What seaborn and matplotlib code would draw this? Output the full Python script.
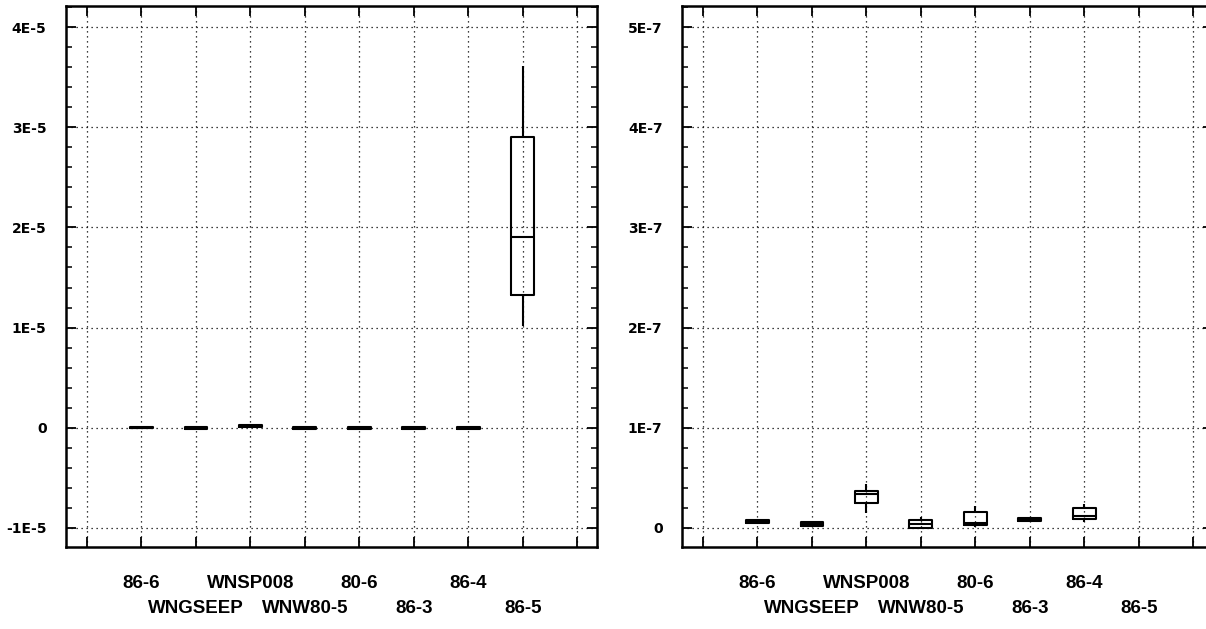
import matplotlib
matplotlib.use("Agg")
import matplotlib.pyplot as plt
from matplotlib.ticker import MultipleLocator, FixedLocator, FixedFormatter
import numpy as np
import pandas as pd
import seaborn as sns

sns.set_style("white")
plt.rcParams["font.family"] = ["DejaVu Sans"]
plt.rcParams["text.color"] = "black"
plt.rcParams["xtick.color"] = "black"
plt.rcParams["ytick.color"] = "black"
plt.rcParams["xtick.labelcolor"] = "black"
plt.rcParams["ytick.labelcolor"] = "black"

# Sampling sites along the x axis
sites = ["86-6", "WNGSEEP", "WNSP008", "WNW80-5", "80-6", "86-3", "86-4", "86-5"]

# Left panel: five-number summaries per site (whisker low, Q1, median, Q3, whisker high)
left_low = [-1.0e-7, -1.5e-7, 0.5e-7, -1.5e-7, -1.5e-7, -1.5e-7, -1.5e-7, 1.02e-5]
left_q1 = [-0.6e-7, -1.0e-7, 1.0e-7, -1.0e-7, -1.0e-7, -1.0e-7, -1.0e-7, 1.33e-5]
left_med = [0.2e-7, 0.0, 2.0e-7, 0.0, 0.0, 0.0, 0.0, 1.90e-5]
left_q3 = [1.0e-7, 1.0e-7, 3.0e-7, 1.0e-7, 1.0e-7, 1.0e-7, 1.0e-7, 2.90e-5]
left_high = [1.5e-7, 1.5e-7, 3.5e-7, 1.5e-7, 1.5e-7, 1.5e-7, 1.5e-7, 3.61e-5]

# Right panel: same summaries (86-5 has no data on this scale)
right_low = [4.0e-9, 1.2e-9, 15.4e-9, 0.0, 1.4e-9, 6.0e-9, 6.0e-9, np.nan]
right_q1 = [4.5e-9, 1.5e-9, 25.4e-9, 0.4e-9, 2.7e-9, 7.0e-9, 8.7e-9, np.nan]
right_med = [6.0e-9, 3.5e-9, 33.5e-9, 3.7e-9, 4.7e-9, 8.0e-9, 12.0e-9, np.nan]
right_q3 = [8.0e-9, 5.5e-9, 36.7e-9, 8.0e-9, 16.4e-9, 9.5e-9, 19.7e-9, np.nan]
right_high = [9.0e-9, 6.0e-9, 43.7e-9, 11.0e-9, 22.0e-9, 10.4e-9, 23.7e-9, np.nan]

left_yticks = [-1e-5, 0, 1e-5, 2e-5, 3e-5, 4e-5]
left_ylabels = ["-1E-5", "0", "1E-5", "2E-5", "3E-5", "4E-5"]
right_yticks = [0, 1e-7, 2e-7, 3e-7, 4e-7, 5e-7]
right_ylabels = ["0", "1E-7", "2E-7", "3E-7", "4E-7", "5E-7"]


def long_frame(*cols):
    rows = []
    for i, site in enumerate(sites):
        for col in cols:
            v = col[i]
            if not np.isnan(v):
                rows.append({"site": site, "value": v})
    return pd.DataFrame(rows)


def draw_panel(ax, df, ylim, yticks, ylabels, ystep):
    sns.boxplot(data=df, x="site", y="value", order=sites, ax=ax,
                fill=False, color="black", linewidth=1.5, width=0.42,
                whis=(0, 100), showcaps=False, showfliers=False)
    ax.set_xlabel("")
    ax.set_ylabel("")

    # Staggered site labels: upper row on major ticks, lower row on minor ticks,
    # plus an empty slot before and after the sites
    upper_pos = [-1] + list(range(0, len(sites), 2)) + [len(sites)]
    upper_lab = [""] + sites[0::2] + [""]
    lower_pos = list(range(1, len(sites), 2))
    lower_lab = sites[1::2]
    ax.xaxis.set_major_locator(FixedLocator(upper_pos))
    ax.xaxis.set_major_formatter(FixedFormatter(upper_lab))
    ax.xaxis.set_minor_locator(FixedLocator(lower_pos))
    ax.xaxis.set_minor_formatter(FixedFormatter(lower_lab))
    ax.set_xlim(-1.385, 8.36)

    ax.yaxis.set_major_locator(FixedLocator(yticks))
    ax.yaxis.set_major_formatter(FixedFormatter(ylabels))
    ax.yaxis.set_minor_locator(MultipleLocator(ystep / 5))
    ax.set_ylim(*ylim)

    grid_style = dict(color="black", linestyle=(0, (1, 3)), linewidth=0.9)
    ax.xaxis.grid(True, which="both", **grid_style)
    ax.yaxis.grid(True, which="major", **grid_style)
    ax.set_axisbelow(True)

    for sp in ax.spines.values():
        sp.set_visible(True)
        sp.set_color("black")
        sp.set_linewidth(1.8)

    ax.tick_params(axis="both", which="both", direction="in", color="black",
                   left=True, right=True, top=True, bottom=True)
    ax.tick_params(axis="y", which="major", length=7, width=1.3, pad=14)
    ax.tick_params(axis="y", which="minor", length=4, width=1.1)
    ax.tick_params(axis="x", which="major", length=7, width=1.3, pad=20)
    ax.tick_params(axis="x", which="minor", length=7, width=1.3, pad=38)

    for lab in ax.get_yticklabels():
        lab.set_fontweight("bold")
        lab.set_fontsize(10)
        lab.set_family("DejaVu Sans")
        lab.set_color("black")
    for lab in ax.get_xticklabels(which="both"):
        lab.set_fontweight("bold")
        lab.set_fontsize(13.5)
        lab.set_family("Liberation Sans")
        lab.set_color("black")


fig = plt.figure(figsize=(12.06, 6.29), dpi=100)
ax_left = fig.add_axes([66 / 1206, 1 - 547 / 629, 531 / 1206, 541 / 629])
ax_right = fig.add_axes([682 / 1206, 1 - 547 / 629, 531 / 1206, 541 / 629])

left_df = long_frame(left_low, left_q1, left_med, left_q3, left_high)
right_df = long_frame(right_low, right_q1, right_med, right_q3, right_high)

draw_panel(ax_left, left_df, (-1.19e-5, 4.21e-5), left_yticks, left_ylabels, 1e-5)
draw_panel(ax_right, right_df, (-0.19e-7, 5.21e-7), right_yticks, right_ylabels, 1e-7)

fig.savefig("out.png", dpi=100)
